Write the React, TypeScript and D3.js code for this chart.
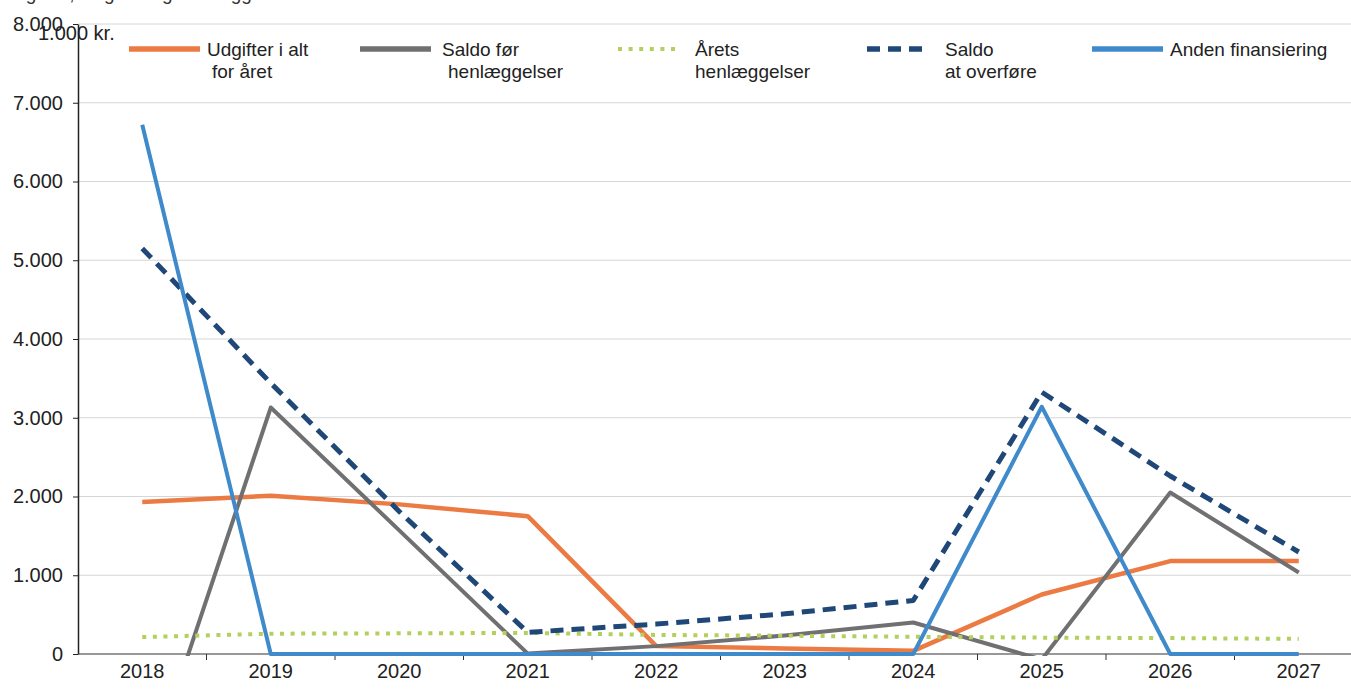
import React, { useEffect, useRef } from "react";
import * as d3 from "d3";

// categories
const years = ["2018", "2019", "2020", "2021", "2022", "2023", "2024", "2025", "2026", "2027"];

// series values, 1.000 kr.
const udgifter = [1930, 2010, 1900, 1750, 100, 70, 40, 755, 1180, 1180];
const saldoFoer = [-1750, 3130, 1570, 5, 100, 235, 400, -70, 2050, 1035];
const aretsHenl = [215, 258, 262, 268, 242, 232, 218, 208, 202, 192];
const saldoOverfoere = [5150, 3440, 1810, 275, 380, 510, 680, 3325, 2260, 1295];
const andenFin = [6720, 0, 0, 0, 0, 0, 0, 3140, 0, 0];

// axis
const yTicks = [0, 1000, 2000, 3000, 4000, 5000, 6000, 7000, 8000];
const unitLabel = "1.000 kr.";

const series = [
  { name: ["Udgifter i alt", "for året"], values: udgifter, color: "#EC7A43", width: 4.5, dash: "", legendX: 129, textX: [207, 212] },
  { name: ["Saldo før", "henlæggelser"], values: saldoFoer, color: "#707073", width: 4, dash: "", legendX: 360, textX: [442, 448] },
  { name: ["Årets", "henlæggelser"], values: aretsHenl, color: "#B3CF5C", width: 4, dash: "4,6.6", legendX: 618, textX: [695, 695] },
  { name: ["Saldo", "at overføre"], values: saldoOverfoere, color: "#1F4777", width: 5, dash: "13,8", legendX: 867, textX: [945, 945] },
  { name: ["Anden finansiering"], values: andenFin, color: "#3F8ACB", width: 4, dash: "", legendX: 1092, textX: [1170] },
];

const W = 1351;
const H = 694;

export default function App() {
  const svgRef = useRef<SVGSVGElement>(null);

  useEffect(() => {
    const svg = d3.select(svgRef.current);
    svg.selectAll("*").remove();

    const left = 78, right = 1363, top = 24, bottom = 654;
    const font = "'Liberation Sans', Arial, sans-serif";

    const x = d3.scaleBand<string>().domain(years).range([left, right]).paddingInner(0).paddingOuter(0);
    const y = d3.scaleLinear().domain([0, 8000]).range([bottom, top]);
    const cx = (i: number) => (x(years[i]) as number) + x.bandwidth() / 2;

    const da = d3.formatLocale({ decimal: ",", thousands: ".", grouping: [3], currency: ["", " kr."] });
    const fmt = da.format(",d");

    svg.append("rect").attr("width", W).attr("height", H).attr("fill", "#fff");

    // cropped title fragment at the very top
    svg.append("text")
      .attr("x", 10).attr("y", 0)
      .attr("font-family", font).attr("font-size", 19).attr("fill", "#333")
      .text("Figur 2, Udgifter og henlæggelser");

    // gridlines
    svg.append("g")
      .selectAll("line")
      .data(yTicks.filter(d => d > 0))
      .enter().append("line")
      .attr("x1", left).attr("x2", W)
      .attr("y1", d => y(d)).attr("y2", d => y(d))
      .attr("stroke", "#d6d6d6").attr("stroke-width", 1);

    // y axis
    const yAxis = svg.append("g")
      .attr("transform", `translate(${left},0)`)
      .call(d3.axisLeft(y).tickValues(yTicks).tickSize(5).tickSizeOuter(0).tickPadding(10).tickFormat(d => fmt(d as number)));
    yAxis.select(".domain").attr("stroke", "#222").attr("stroke-width", 1.5);
    yAxis.selectAll(".tick line").attr("stroke", "#222");
    yAxis.selectAll("text").attr("font-family", font).attr("font-size", 20).attr("fill", "#222");

    svg.append("text")
      .attr("x", 38).attr("y", 40)
      .attr("font-family", font).attr("font-size", 20).attr("fill", "#222")
      .text(unitLabel);

    // x axis
    const xAxis = svg.append("g");
    xAxis.append("line")
      .attr("x1", left).attr("x2", W)
      .attr("y1", bottom).attr("y2", bottom)
      .attr("stroke", "#333").attr("stroke-width", 1.2);
    xAxis.selectAll(".tk")
      .data(years)
      .enter().append("line")
      .attr("class", "tk")
      .attr("x1", d => (x(d) as number) + x.bandwidth()).attr("x2", d => (x(d) as number) + x.bandwidth())
      .attr("y1", bottom).attr("y2", bottom + 6)
      .attr("stroke", "#333");
    xAxis.selectAll(".lb")
      .data(years)
      .enter().append("text")
      .attr("class", "lb")
      .attr("x", (d, i) => cx(i))
      .attr("y", bottom + 24)
      .attr("text-anchor", "middle")
      .attr("font-family", font).attr("font-size", 20).attr("fill", "#222")
      .text(d => d);

    // clip plot area (values below 0 are cut at the axis)
    svg.append("defs").append("clipPath").attr("id", "plot-clip")
      .append("rect").attr("x", left).attr("y", top - 10).attr("width", right - left).attr("height", bottom - top + 12);

    const line = d3.line<number>()
      .x((d, i) => cx(i))
      .y(d => y(d));

    const plot = svg.append("g").attr("clip-path", "url(#plot-clip)");
    series.forEach(s => {
      plot.append("path")
        .datum(s.values)
        .attr("fill", "none")
        .attr("stroke", s.color)
        .attr("stroke-width", s.width)
        .attr("stroke-dasharray", s.dash || null)
        .attr("stroke-linejoin", "round")
        .attr("d", line);
    });

    // legend
    const lg = svg.append("g");
    series.forEach(s => {
      const len = s.dash === "4,6.6" ? 60 : s.dash ? 61 : 71;
      lg.append("line")
        .attr("x1", s.legendX).attr("x2", s.legendX + len)
        .attr("y1", 49).attr("y2", 49)
        .attr("stroke", s.color)
        .attr("stroke-width", s.dash === "4,6.6" ? 4 : 5.5)
        .attr("stroke-dasharray", s.dash || null);
      s.name.forEach((t, j) => {
        lg.append("text")
          .attr("x", s.textX[j]).attr("y", 56 + j * 22)
          .attr("font-family", font).attr("font-size", 19).attr("fill", "#222")
          .text(t);
      });
    });
  }, []);

  return (
    <div style={{ position: "absolute", left: 0, top: 0, width: W, height: H }}>
      <svg ref={svgRef} width={W} height={H} style={{ display: "block" }}></svg>
    </div>
  );
}
